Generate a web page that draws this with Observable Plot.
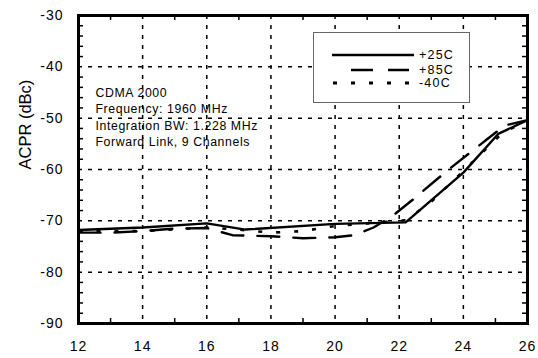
<!DOCTYPE html>
<html>
<head>
<meta charset="utf-8">
<script src="https://cdn.jsdelivr.net/npm/d3@7"></script>
<script src="https://cdn.jsdelivr.net/npm/@observablehq/plot@0.6"></script>
<style>
  html, body { margin: 0; padding: 0; background: #fff; }
  #wrap { position: relative; width: 538px; height: 358px; font-family: "Liberation Sans", Arial, Helvetica, sans-serif; }
  #wrap svg text { font-family: "Liberation Sans", Arial, Helvetica, sans-serif; }
  .tick-lbl text { letter-spacing: 1px; }
  .note text { letter-spacing: 0.6px; }
  #legend { position: absolute; left: 313px; top: 32px; width: 155px; height: 69px; border: 1px solid #666; background: #fff; }
  #legend text { font-size: 12.5px; letter-spacing: 1.2px; fill: #000; }
</style>
</head>
<body>
<div id="wrap"></div>
<script>
// ---- data ----
const seriesNames = ["+25C", "+85C", "-40C"];
const x25 = [12, 14, 16, 17.2, 20, 22.2, 24, 25.1, 26];
const y25 = [-71.8, -71.3, -70.5, -71.7, -70.6, -70.3, -60.6, -53, -50.4];
const x85 = [12, 13, 14, 15, 16, 16.8, 18, 19, 20, 20.6, 21.2, 21.8, 22.4, 23.5, 24.7, 25.3, 26];
const y85 = [-72.3, -72.3, -72, -71.5, -71.4, -72.8, -73, -73.4, -73.2, -72.8, -71.3, -69, -66, -60.2, -54.3, -51.4, -50.4];
const xm40 = [12, 14, 16, 17, 18, 19, 20, 21, 22.2, 23, 24, 25.2, 26];
const ym40 = [-72, -72, -71.3, -71.7, -72.3, -72, -71, -70.5, -69.9, -66.3, -60.3, -53, -50.4];
const xTicks = [12, 14, 16, 18, 20, 22, 24, 26];
const yTicks = [-90, -80, -70, -60, -50, -40, -30];
const xMinor = [13, 15, 17, 19, 21, 23, 25];
const yMinor = [-88, -86, -84, -82, -78, -76, -74, -72, -68, -66, -64, -62, -58, -56, -54, -52, -48, -46, -44, -42, -38, -36, -34, -32];
const yTitle = "ACPR (dBc)";
const noteLines = ["CDMA 2000", "Frequency: 1960 MHz", "Integration BW: 1.228 MHz", "Forward Link, 9 Channels"];

const toRows = (xs, ys) => xs.map((x, i) => ({x, y: ys[i]}));
const d25 = toRows(x25, y25), d85 = toRows(x85, y85), dm40 = toRows(xm40, ym40);

const mL = 78, mR = 11, mT = 15, mB = 35, W = 538, H = 358;
const pw = W - mL - mR, ph = H - mT - mB;

const chart = Plot.plot({
  width: W, height: H,
  marginLeft: mL, marginRight: mR, marginTop: mT, marginBottom: mB,
  x: {domain: [12, 26]},
  y: {domain: [-90, -30]},
  style: {background: "#fff", color: "#000"},
  marks: [
    Plot.gridX(xTicks.slice(1, -1), {stroke: "#000", strokeOpacity: 1, strokeWidth: 1.5, strokeDasharray: "4,6"}),
    Plot.gridY(yTicks.slice(1, -1), {stroke: "#000", strokeOpacity: 1, strokeWidth: 1.5, strokeDasharray: "4,6"}),
    Plot.tickX(xMinor, {x: d => d, insetTop: ph - 5, strokeWidth: 1.5}),
    Plot.tickX(xMinor, {x: d => d, insetBottom: ph - 5, strokeWidth: 1.5}),
    Plot.tickY(yMinor, {y: d => d, insetRight: pw - 5, strokeWidth: 1.5}),
    Plot.tickY(yMinor, {y: d => d, insetLeft: pw - 5, strokeWidth: 1.5}),
    Plot.axisX({ticks: xTicks, tickSize: 0, tickPadding: 18, fontSize: 14, tickFormat: d => String(d), label: null, className: "tick-lbl"}),
    Plot.axisY({ticks: yTicks, tickSize: 0, tickPadding: 15, fontSize: 14, tickFormat: d => String(d), label: null, className: "tick-lbl"}),
    Plot.text([yTitle], {frameAnchor: "left", dx: -53, dy: 0, rotate: -90, fontSize: 16.5, text: d => d}),
    Plot.text([noteLines.join("\n")], {frameAnchor: "top-left", dx: 17, dy: 70, lineAnchor: "top", textAnchor: "start", fontSize: 12.3, lineHeight: 1.33, text: d => d, className: "note"}),
    Plot.line(dm40, {x: "x", y: "y", stroke: "#000", strokeWidth: 2.6, strokeDasharray: "4,14", strokeLinecap: "butt"}),
    Plot.line(d85, {x: "x", y: "y", stroke: "#000", strokeWidth: 2.4, strokeDasharray: "22,14"}),
    Plot.line(d25, {x: "x", y: "y", stroke: "#000", strokeWidth: 2.4}),
    Plot.frame({stroke: "#000", strokeWidth: 3})
  ]
});

const wrap = document.getElementById("wrap");
wrap.appendChild(chart);

// legend box (inside plot area, overlaid)
const legend = document.createElement("div");
legend.id = "legend";
const ns = "http://www.w3.org/2000/svg";
const lsvg = document.createElementNS(ns, "svg");
lsvg.setAttribute("width", 155); lsvg.setAttribute("height", 69);
const styles = [
  {dash: null, x1: 18, x2: 100, y: 22, w: 2.6},
  {dash: "22,15", x1: 37, x2: 95, y: 37, w: 2.6},
  {dash: "4,14", x1: 19, x2: 100, y: 50, w: 2.8}
];
seriesNames.forEach((name, i) => {
  const s = styles[i];
  const ln = document.createElementNS(ns, "line");
  ln.setAttribute("x1", s.x1); ln.setAttribute("x2", s.x2);
  ln.setAttribute("y1", s.y); ln.setAttribute("y2", s.y);
  ln.setAttribute("stroke", "#000"); ln.setAttribute("stroke-width", s.w);
  if (s.dash) ln.setAttribute("stroke-dasharray", s.dash);
  lsvg.appendChild(ln);
  const t = document.createElementNS(ns, "text");
  t.setAttribute("x", 105); t.setAttribute("y", s.y);
  t.setAttribute("dominant-baseline", "central");
  t.textContent = name;
  lsvg.appendChild(t);
});
legend.appendChild(lsvg);
wrap.appendChild(legend);
</script>
</body>
</html>
